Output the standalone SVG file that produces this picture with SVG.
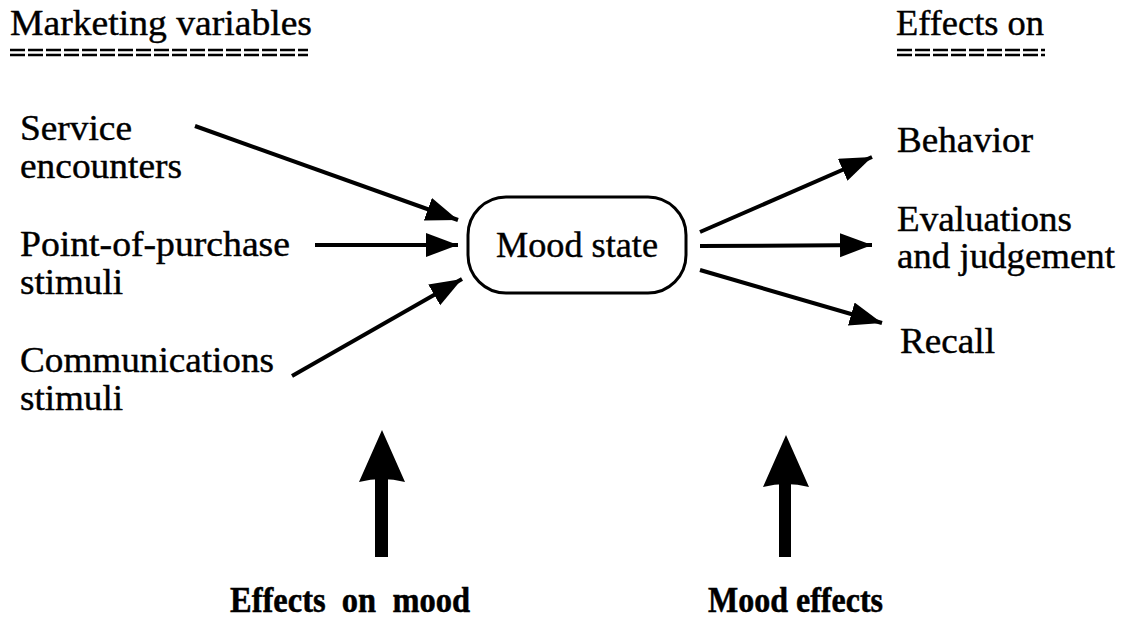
<svg xmlns="http://www.w3.org/2000/svg" width="1129" height="619" viewBox="0 0 1129 619">
<style>
.t{font-family:"Liberation Serif","Times New Roman",serif;font-size:35px;fill:#000;stroke:#000;stroke-width:0.4}
.b{font-family:"Liberation Serif","Times New Roman",serif;font-size:35px;font-weight:bold;fill:#000;stroke:#000;stroke-width:0.5}
.ul{stroke:#000;stroke-width:2.6;stroke-dasharray:15 3;fill:none}
.c{stroke:#000;stroke-width:4;fill:none;marker-end:url(#ah)}
</style>
<defs>
<marker id="ah" markerUnits="userSpaceOnUse" markerWidth="34" markerHeight="26" refX="32" refY="12" orient="auto" viewBox="0 0 34 26">
<path d="M0,0 L32,12 L0,24 Z" fill="#000"/>
</marker>
</defs>
<rect width="1129" height="619" fill="#fff"/>
<g id="header-left">
<text class="t" x="10" y="35" textLength="302" lengthAdjust="spacingAndGlyphs">Marketing variables</text>
<line class="ul" x1="10" y1="50" x2="308" y2="50"/>
<line class="ul" x1="10" y1="55" x2="308" y2="55"/>
</g>
<g id="header-right">
<text class="t" x="896" y="35" textLength="148" lengthAdjust="spacingAndGlyphs">Effects on</text>
<line class="ul" x1="897" y1="50" x2="1045" y2="50"/>
<line class="ul" x1="897" y1="55" x2="1045" y2="55"/>
</g>
<g id="service">
<text class="t" x="20" y="140" textLength="112" lengthAdjust="spacingAndGlyphs">Service</text>
<text class="t" x="20" y="178" textLength="162" lengthAdjust="spacingAndGlyphs">encounters</text>
</g>
<g id="pop">
<text class="t" x="20" y="256" textLength="270" lengthAdjust="spacingAndGlyphs">Point-of-purchase</text>
<text class="t" x="20" y="294" textLength="103" lengthAdjust="spacingAndGlyphs">stimuli</text>
</g>
<g id="comm">
<text class="t" x="20" y="372" textLength="254" lengthAdjust="spacingAndGlyphs">Communications</text>
<text class="t" x="20" y="410" textLength="103" lengthAdjust="spacingAndGlyphs">stimuli</text>
</g>
<g id="mood">
<rect x="468" y="197" width="218" height="96" rx="38" ry="38" fill="#fff" stroke="#000" stroke-width="3"/>
<text class="t" x="577" y="257" text-anchor="middle" textLength="162" lengthAdjust="spacingAndGlyphs">Mood state</text>
</g>
<g id="behavior">
<text class="t" x="897" y="152" textLength="136" lengthAdjust="spacingAndGlyphs">Behavior</text>
</g>
<g id="evaluations">
<text class="t" x="897" y="231" textLength="175" lengthAdjust="spacingAndGlyphs">Evaluations</text>
<text class="t" x="897" y="268" textLength="218" lengthAdjust="spacingAndGlyphs">and judgement</text>
</g>
<g id="recall">
<text class="t" x="900" y="353" textLength="95" lengthAdjust="spacingAndGlyphs">Recall</text>
</g>
<g id="connectors">
<line class="c" x1="195" y1="126" x2="458" y2="220"/>
<line class="c" x1="315" y1="245" x2="458" y2="245"/>
<line class="c" x1="292" y1="376" x2="462" y2="279"/>
<line class="c" x1="700" y1="232" x2="872" y2="157"/>
<line class="c" x1="700" y1="246" x2="872" y2="245"/>
<line class="c" x1="700" y1="270" x2="882" y2="323"/>
</g>
<g id="effects-on-mood">
<path d="M359,482 Q382,476 405,482 L382,430 Z" fill="#000"/>
<rect x="375" y="478" width="13" height="79" fill="#000"/>
<text class="b" x="230" y="612" textLength="240" lengthAdjust="spacingAndGlyphs" style="white-space:pre">Effects  on  mood</text>
</g>
<g id="mood-effects">
<path d="M763,487 Q786,481 809,487 L786,435 Z" fill="#000"/>
<rect x="779" y="483" width="12" height="74" fill="#000"/>
<text class="b" x="708" y="612" textLength="175" lengthAdjust="spacingAndGlyphs">Mood effects</text>
</g>
</svg>
